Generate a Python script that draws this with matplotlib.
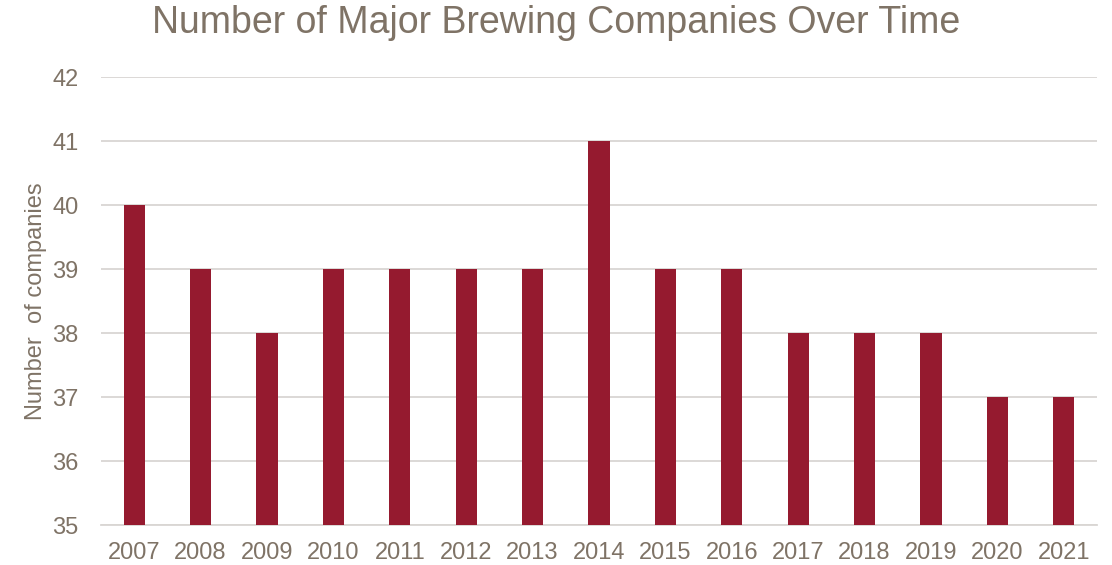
import matplotlib
matplotlib.use("Agg")
import matplotlib.pyplot as plt
import numpy as np

years = ["2007", "2008", "2009", "2010", "2011", "2012", "2013", "2014",
         "2015", "2016", "2017", "2018", "2019", "2020", "2021"]
companies = [40, 39, 38, 39, 39, 39, 39, 41, 39, 39, 38, 38, 38, 37, 37]

text_color = "#7F7366"
bar_color = "#951A2F"
grid_color = "#D9D6D3"

plt.rcParams["font.family"] = ["Liberation Sans", "DejaVu Sans"]

fig = plt.figure(figsize=(11.12, 5.65), dpi=100)
ax = fig.add_axes([101 / 1112, 1 - 525 / 565, 996 / 1112, 448 / 565])

x = np.arange(len(years))
ax.bar(x, companies, width=0.32, color=bar_color, zorder=3)

ax.set_xlim(-0.5, len(years) - 0.5)
ax.set_ylim(35, 42)
ax.set_yticks(range(35, 43))
ax.set_xticks(x)
ax.set_xticklabels(years)

ax.grid(axis="y", color=grid_color, linewidth=1.3, zorder=0)
for side in ["top", "right", "left"]:
    ax.spines[side].set_visible(False)
ax.spines["bottom"].set_color(grid_color)
ax.spines["bottom"].set_linewidth(1.3)
ax.tick_params(axis="both", length=0, labelsize=17, colors=text_color)
ax.tick_params(axis="x", pad=12)
ax.tick_params(axis="y", pad=16)

ax.set_ylabel("Number  of companies", fontsize=17, color=text_color, labelpad=4)
fig.text(0.5, 1 - 23 / 565, "Number of Major Brewing Companies Over Time",
         fontsize=27, color=text_color, ha="center", va="center")

fig.savefig("out.png", dpi=100)
